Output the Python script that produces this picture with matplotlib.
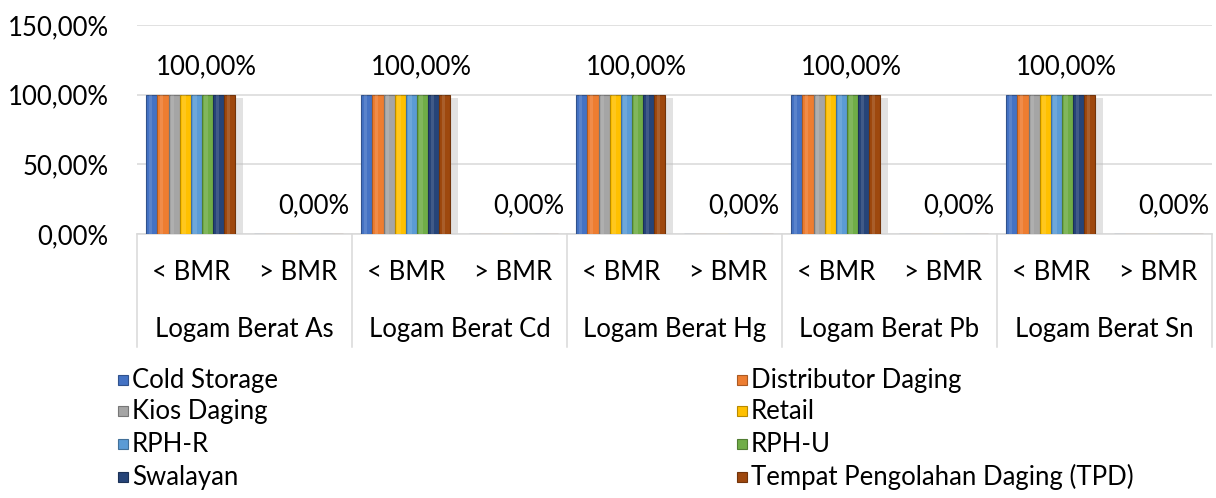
import matplotlib
matplotlib.use('Agg')
import matplotlib.pyplot as plt
from matplotlib.patches import Rectangle
from matplotlib.lines import Line2D
import matplotlib.colors as mcolors

W, H = 1216, 498

# ---------------- data ----------------
groups = ['Logam Berat As', 'Logam Berat Cd', 'Logam Berat Hg', 'Logam Berat Pb', 'Logam Berat Sn']
subcats = ['< BMR', '> BMR']
series = ['Cold Storage', 'Distributor Daging', 'Kios Daging', 'Retail',
          'RPH-R', 'RPH-U', 'Swalayan', 'Tempat Pengolahan Daging (TPD)']
cold_storage = [100, 0, 100, 0, 100, 0, 100, 0, 100, 0]
distributor_daging = [100, 0, 100, 0, 100, 0, 100, 0, 100, 0]
kios_daging = [100, 0, 100, 0, 100, 0, 100, 0, 100, 0]
retail = [100, 0, 100, 0, 100, 0, 100, 0, 100, 0]
rph_r = [100, 0, 100, 0, 100, 0, 100, 0, 100, 0]
rph_u = [100, 0, 100, 0, 100, 0, 100, 0, 100, 0]
swalayan = [100, 0, 100, 0, 100, 0, 100, 0, 100, 0]
tpd = [100, 0, 100, 0, 100, 0, 100, 0, 100, 0]
series_values = [cold_storage, distributor_daging, kios_daging, retail,
                 rph_r, rph_u, swalayan, tpd]
y_ticks = [0, 50, 100, 150]
y_tick_labels = ['0,00%', '50,00%', '100,00%', '150,00%']
colors = ['#4472C4', '#ED7D31', '#A5A5A5', '#FFC000', '#5B9BD5', '#70AD47', '#264478', '#9E480E']

plt.rcParams['font.family'] = ['Lato', 'DejaVu Sans']
FS = 18.5
GRID = '#D9D9D9'

fig = plt.figure(figsize=(W / 100, H / 100), dpi=100)
fig.patch.set_facecolor('white')

left_px, right_px, top_px, bot_px = 137, 1212, 25, 234
ax = fig.add_axes([left_px / W, 1 - bot_px / H, (right_px - left_px) / W, (bot_px - top_px) / H])
n_slots = len(groups) * len(subcats)
ax.set_xlim(-0.5, n_slots - 0.5)
ax.set_ylim(0, 150)
slot_px = (right_px - left_px) / n_slots

bw = 11.1 / slot_px
ns = len(series)
sh_dx = 8 / slot_px
sh_dy = 3 * 150 / (bot_px - top_px)
for i, (vals, col) in enumerate(zip(series_values, colors)):
    xs = [k + (i - (ns - 1) / 2) * bw for k in range(n_slots)]
    # soft shadow
    ax.bar([x + sh_dx for x in xs], [v - sh_dy if v > 0 else 0 for v in vals], width=bw,
           color='#bfbfbf', alpha=0.45, zorder=2, linewidth=0)
    dark = tuple(c * 0.72 for c in mcolors.to_rgb(col))
    ax.bar(xs, vals, width=bw, color=col, edgecolor=dark, linewidth=0.8, zorder=3)
    # light sheen
    ax.bar([x - bw * 0.12 for x in xs], vals, width=bw * 0.3, color='white', alpha=0.12,
           linewidth=0, zorder=4)

# data labels (last series)
for k, v in enumerate(tpd):
    ax.annotate(f'{v:.2f}'.replace('.', ',') + '%', xy=(k, v), xytext=(16, 28),
                textcoords='offset pixels', ha='center', va='center', fontsize=FS, zorder=5)

ax.set_yticks(y_ticks)
ax.set_yticklabels(y_tick_labels, fontsize=FS)
ax.tick_params(axis='y', length=0, pad=20.5)
ax.set_xticks([])
ax.yaxis.grid(True, color=GRID, linewidth=1.1, zorder=0)
ax.set_axisbelow(True)
for s in ['top', 'right', 'left']:
    ax.spines[s].set_visible(False)
ax.spines['bottom'].set_color(GRID)
ax.spines['bottom'].set_linewidth(1.1)

# category axis labels
for k in range(n_slots):
    ax.annotate(subcats[k % 2], xy=(k, 0), xycoords=('data', 'axes fraction'), xytext=(0, -38),
                textcoords='offset pixels', ha='center', va='center', fontsize=FS)
for g, name in enumerate(groups):
    ax.annotate(name, xy=(2 * g + 0.5, 0), xycoords=('data', 'axes fraction'), xytext=(0, -95),
                textcoords='offset pixels', ha='center', va='center', fontsize=FS)
for g in range(len(groups) + 1):
    x = left_px + g * 2 * slot_px
    fig.add_artist(Line2D([x / W, x / W], [1 - bot_px / H, 1 - 347 / H], color=GRID, linewidth=1.1))

# legend
row_y = [380, 411, 444, 477]
col_x = [(118, 132), (737, 751)]
for i, (name, col) in enumerate(zip(series, colors)):
    r, c = divmod(i, 2)
    mx, tx = col_x[c]
    y = row_y[r]
    dark = tuple(v * 0.72 for v in mcolors.to_rgb(col))
    fig.add_artist(Rectangle((mx / W, 1 - (y + 5) / H), 10 / W, 10 / H, transform=fig.transFigure,
                             facecolor=col, edgecolor=dark, linewidth=0.8))
    fig.text(tx / W, 1 - y / H, name, ha='left', va='center', fontsize=FS)

fig.savefig('out.png', dpi=100, facecolor='white')
